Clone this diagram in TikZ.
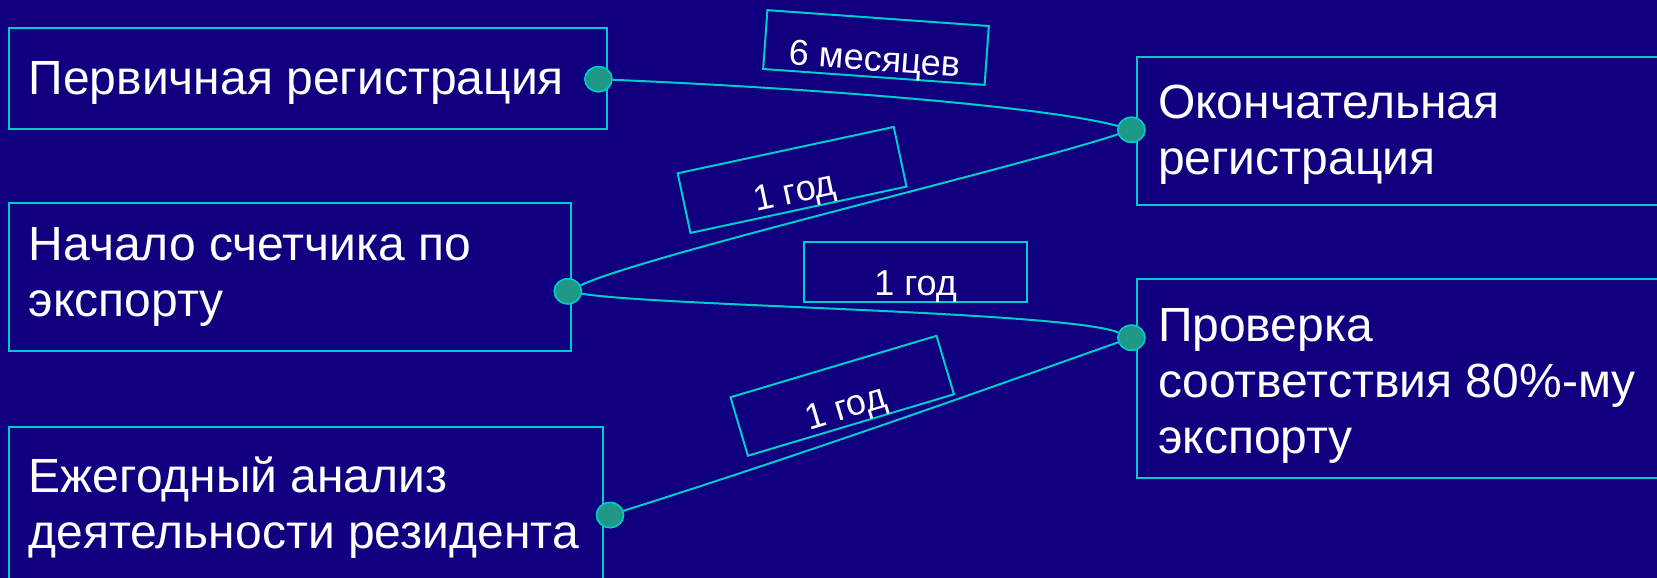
\documentclass[tikz,border=0pt]{standalone}
\usepackage{fontspec}
\setmainfont{Liberation Sans}
\usetikzlibrary{fit,shapes.geometric}
\definecolor{bgnavy}{RGB}{16,0,128}
\definecolor{linecyan}{RGB}{0,204,204}
\definecolor{dotteal}{RGB}{32,152,136}
\begin{document}
\begin{tikzpicture}[x=1.0554pt,y=-1.0554pt,
  box/.style={draw=linecyan, line width=2pt, inner sep=0pt},
  txt/.style={text=white, inner sep=0pt, align=left, anchor=base west,
    font=\fontsize{48}{56}\selectfont},
  tag/.style={draw=linecyan, line width=2pt, inner sep=0pt, text=white,
    font=\fontsize{36}{40}\selectfont, text height=50pt, text depth=3pt},
  dot/.style={ellipse, draw=linecyan, fill=dotteal, line width=1.5pt,
    minimum width=27pt, minimum height=25pt, inner sep=0pt},
  conn/.style={draw=linecyan, line width=2pt}]
\fill[bgnavy] (0,0) rectangle (1570,547.65);
\useasboundingbox (0,0) rectangle (1570,547.65);
\clip (0,0) rectangle (1570,547.65);
% main boxes
\node[box, fit={(9,27) (575,122)}] (b1) {};
\node[box, fit={(9,192) (541,333)}] (b2) {};
\node[box, fit={(9,405) (571,600)}] (b3) {};
\node[box, fit={(1077,54) (1600,194)}] (b4) {};
\node[box, fit={(1077,264) (1600,453)}] (b5) {};
% texts (base anchor = baseline of last line)
\node[txt] (t1) at (27,90) {Первичная регистрация};
\node[txt] (t2) at (27,300) {Начало счетчика по\\экспорту};
\node[txt] (t3) at (27,520) {Ежегодный анализ\\деятельности резидента};
\node[txt] (t4) at (1097,165) {Окончательная\\регистрация};
\node[txt] (t5) at (1097,430) {Проверка\\соответствия 80\%-му\\экспорту};
% labels
\node[tag, rotate=-4.1, minimum width=222pt, minimum height=59pt] (l1) at (830,45) {6 месяцев};
\node[tag, rotate=12.1, minimum width=221pt, minimum height=61pt] (l2) at (750.5,170.5) {1 год};
\node[tag, minimum width=223pt, minimum height=60pt] (l3) at (867.5,257.5) {1 год};
\node[tag, rotate=16.6, minimum width=215pt, minimum height=61pt] (l4) at (798,375) {1 год};
% dots
\node[dot] (d1) at (567,75) {};
\node[dot] (d2) at (538,276) {};
\node[dot] (d3) at (578,488) {};
\node[dot] (d4) at (1072,123) {};
\node[dot] (d5) at (1072,320) {};
% connectors
\draw[conn] (d1) .. controls (800,85) and (1000,103) .. (d4);
\draw[conn] (d2) .. controls (610,242) and (960,160) .. (d4);
\draw[conn] (d2) .. controls (620,290) and (1010,295) .. (d5);
\draw[conn] (d3) .. controls (800,418) and (1000,345) .. (d5);
% redraw dots on top of the connector ends
\node[dot] at (d1) {};
\node[dot] at (d2) {};
\node[dot] at (d3) {};
\node[dot] at (d4) {};
\node[dot] at (d5) {};
\end{tikzpicture}
\end{document}
